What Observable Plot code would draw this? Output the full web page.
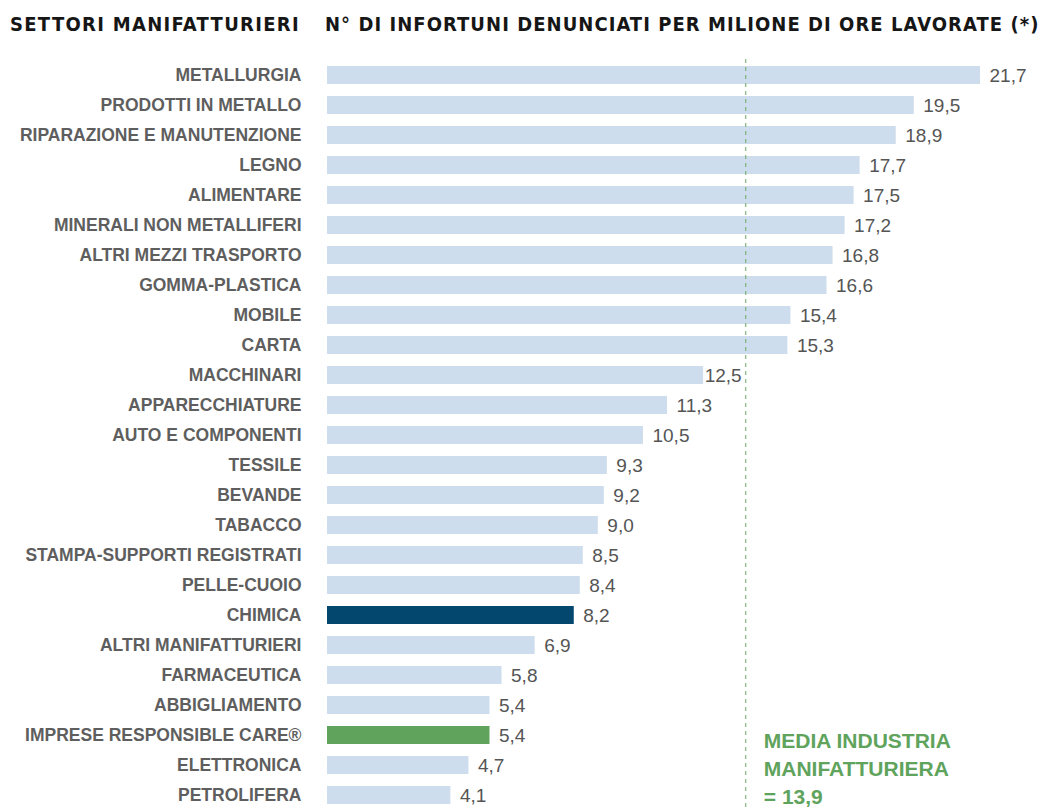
<!DOCTYPE html>
<html>
<head>
<meta charset="utf-8">
<script src="https://cdn.jsdelivr.net/npm/d3@7"></script>
<script src="https://cdn.jsdelivr.net/npm/@observablehq/plot@0.6"></script>
<style>
  html, body { margin: 0; padding: 0; background: #fff; overflow: hidden; width: 1043px; height: 808px; }
  #wrap { position: relative; width: 1043px; height: 808px; overflow: hidden; }
  .head { position: absolute; top: 14px; font-family: "DejaVu Sans", sans-serif; font-stretch: condensed; font-weight: bold; font-size: 20px; line-height: 20px; color: #161616; white-space: nowrap; }
  #chart { position: absolute; left: 0; top: 40px; }
</style>
</head>
<body>
<div id="wrap">
  <div class="head" id="h1" style="left:10px; letter-spacing:1.3px">SETTORI MANIFATTURIERI</div>
  <div class="head" id="h2" style="left:325px; letter-spacing:1.05px">N° DI INFORTUNI DENUNCIATI PER MILIONE DI ORE LAVORATE (*)</div>
  <div id="chart"></div>
</div>
<script>
const categories = [
  "METALLURGIA", "PRODOTTI IN METALLO", "RIPARAZIONE E MANUTENZIONE", "LEGNO", "ALIMENTARE",
  "MINERALI NON METALLIFERI", "ALTRI MEZZI TRASPORTO", "GOMMA-PLASTICA", "MOBILE", "CARTA",
  "MACCHINARI", "APPARECCHIATURE", "AUTO E COMPONENTI", "TESSILE", "BEVANDE", "TABACCO",
  "STAMPA-SUPPORTI REGISTRATI", "PELLE-CUOIO", "CHIMICA", "ALTRI MANIFATTURIERI",
  "FARMACEUTICA", "ABBIGLIAMENTO", "IMPRESE RESPONSIBLE CARE®", "ELETTRONICA", "PETROLIFERA"
];
const values = [
  21.7, 19.5, 18.9, 17.7, 17.5,
  17.2, 16.8, 16.6, 15.4, 15.3,
  12.5, 11.3, 10.5, 9.3, 9.2, 9.0,
  8.5, 8.4, 8.2, 6.9,
  5.8, 5.4, 5.4, 4.7, 4.1
];
const groups = categories.map(c => c === "CHIMICA" ? "chimica" : c === "IMPRESE RESPONSIBLE CARE®" ? "rc" : "altri");
const groupNames = ["altri", "chimica", "rc"];
const groupColors = ["#cedded", "#03466e", "#60a35c"];
const mediaValue = 13.9;
const mediaLabel = "MEDIA INDUSTRIA\nMANIFATTURIERA\n= 13,9";

const data = categories.map((c, i) => ({category: c, value: values[i], group: groups[i]}));
const fmt = v => d3.format(".1f")(v).replace(".", ",");

const W = 1043, H = 768;
const xMin = 0, xMax = 21.7;
const ml = 327, mr = 63;
const pxPerUnit = (W - ml - mr) / (xMax - xMin);
// a label that would run into the mean line hugs the bar end instead
const hugs = d => d.value < mediaValue && d.value * pxPerUnit + 9 + 37 > mediaValue * pxPerUnit;

const chart = Plot.plot({
  width: W,
  height: H,
  marginLeft: ml,
  marginRight: mr,
  marginTop: 9,
  marginBottom: 0,
  style: {fontFamily: "'Liberation Sans', Arial, sans-serif", background: "#fff", overflow: "hidden"},
  x: {domain: [xMin, xMax], axis: null},
  y: {domain: categories, padding: 0.407, label: null, range: [9, 781]},
  color: {domain: groupNames, range: groupColors},
  marks: [
    Plot.barX(data, {x: "value", y: "category", fill: "group"}),
    Plot.ruleX([mediaValue], {stroke: "#6aa862", strokeDasharray: "4,4", strokeWidth: 1, insetTop: 10}),
    Plot.text(data.filter(d => !hugs(d)), {x: "value", y: "category", text: d => fmt(d.value), textAnchor: "start", dx: 9, fontSize: 19, fill: "#555"}),
    Plot.text(data.filter(hugs), {x: "value", y: "category", text: d => fmt(d.value), textAnchor: "start", dx: 1, fontSize: 19, fill: "#555"}),
    Plot.text([mediaLabel], {x: mediaValue, y: () => "IMPRESE RESPONSIBLE CARE®", text: d => d, textAnchor: "start", lineAnchor: "top", dx: 18, dy: -7, lineHeight: 1.32, fontSize: 21, fontWeight: "bold", fill: "#60a35c"}),
    Plot.axisY({tickSize: 0, tickPadding: 26, fontSize: 17.5, fontWeight: "bold", fill: "#5e5e5e", label: null, style: {letterSpacing: "1.2px"}})
  ]
});
document.getElementById("chart").appendChild(chart);
</script>
</body>
</html>
